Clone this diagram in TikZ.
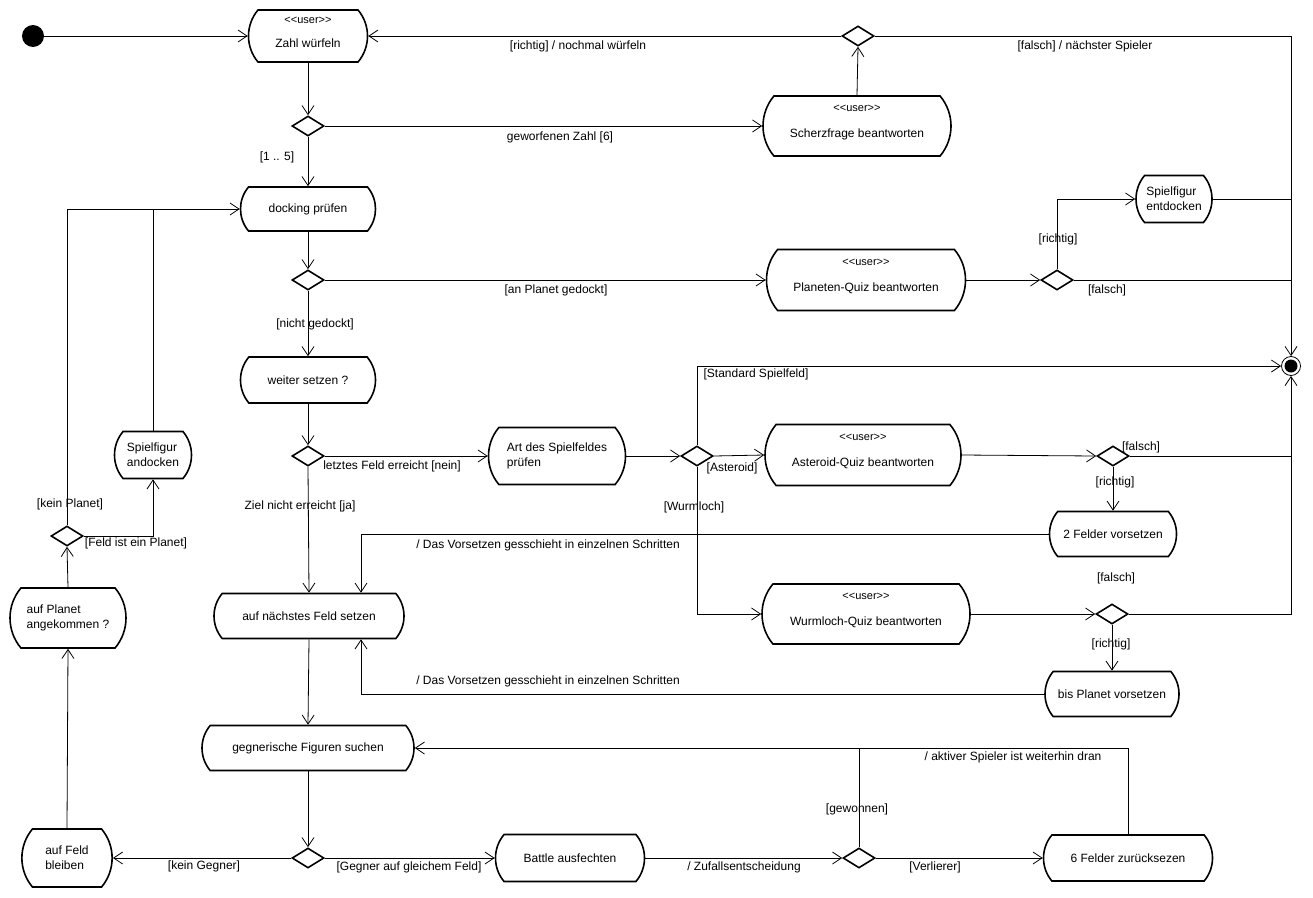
\documentclass[tikz,border=0pt]{standalone}
\usepackage{fontspec}
\setmainfont{Liberation Sans}
\usetikzlibrary{shapes.geometric,shapes.misc,arrows.meta}
\newcommand\actname[1]{\raisebox{-11.5pt}[0pt][0pt]{#1}}
\newcommand\usertag{<\kern0pt<user>\kern0pt>}
\begin{document}
\begin{tikzpicture}[x=1pt,y=-1pt,
  every node/.style={font=\fontsize{12}{15}\selectfont},
  act/.style={rounded rectangle, rounded rectangle arc length=80, draw, line width=1.6pt, inner sep=1pt, align=center},
  actl/.style={act, align=left},
  dec/.style={diamond, draw, line width=1.6pt, minimum width=32pt, minimum height=20pt, inner sep=0pt},
  stereo/.style={anchor=base, yshift=-16.5pt, inner sep=0pt, font=\fontsize{11}{13}\selectfont},
  lbl/.style={inner sep=0pt},
  ln/.style={line width=0.8pt},
  arr/.style={ln, -{Straight Barb[length=9pt,width=12pt]}}
]
\useasboundingbox[fill=white] (0,0) rectangle (1313,897);

% nodes
\node[circle,fill,minimum size=22pt,inner sep=0pt] (init) at (33,36) {};
\node[act,minimum width=121pt,minimum height=52pt,label={[stereo,yshift=2pt]north:\usertag}] (zahl) at (308,36) {\actname{Zahl würfeln}};
\node[dec] (d1) at (308,126) {};
\node[act,minimum width=190pt,minimum height=60pt,label={[stereo]north:\usertag}] (scherz) at (857,126) {\actname{Scherzfrage beantworten}};
\node[dec] (dtop) at (858,36) {};
\node[act,minimum width=137pt,minimum height=44pt] (dock) at (308,209) {docking prüfen};
\node[dec] (d2) at (308,280) {};
\node[act,minimum width=201pt,minimum height=61pt,label={[stereo]north:\usertag}] (planet) at (866,280) {\actname{Planeten-Quiz beantworten}};
\node[dec] (dplan) at (1057,280) {};
\node[actl,minimum width=78pt,minimum height=47pt] (entdock) at (1174,199) {Spielfigur\\entdocken};
\node[circle,draw,ln,minimum size=19pt,inner sep=0pt,path picture={\fill (path picture bounding box.center) circle[radius=6.5pt];}] (final) at (1291,366) {};
\node[act,minimum width=137pt,minimum height=46pt] (weiter) at (308,380) {weiter setzen ?};
\node[dec] (d3) at (308,456) {};
\node[actl,minimum width=139pt,minimum height=57pt] (art) at (557,456) {Art des Spielfeldes\\prüfen};
\node[dec] (dart) at (697,456) {};
\node[act,minimum width=198pt,minimum height=61pt,label={[stereo]north:\usertag}] (ast) at (863,455) {\actname{Asteroid-Quiz beantworten}};
\node[dec] (dast) at (1113,456) {};
\node[act,minimum width=129pt,minimum height=45pt] (zwei) at (1113,534) {2 Felder vorsetzen};
\node[act,minimum width=210pt,minimum height=60pt,label={[stereo]north:\usertag}] (wurm) at (866,614) {\actname{Wurmloch-Quiz beantworten}};
\node[dec] (dwurm) at (1112,614) {};
\node[act,minimum width=136pt,minimum height=45pt] (bis) at (1112,694) {bis Planet vorsetzen};
\node[act,minimum width=192pt,minimum height=45pt] (nxt) at (309,616) {auf nächstes Feld setzen};
\node[act,minimum width=214pt,minimum height=45pt] (gegn) at (308,748) {gegnerische Figuren suchen};
\node[dec] (dgeg) at (308,858) {};
\node[actl,minimum width=74pt,minimum height=58pt] (feld) at (67,858) {auf Feld\\bleiben};
\node[act,minimum width=151pt,minimum height=47pt] (battle) at (570,858) {Battle ausfechten};
\node[dec] (dbat) at (859,858) {};
\node[act,minimum width=171pt,minimum height=46pt] (sechs) at (1128,858) {6 Felder zurücksezen};
\node[actl,minimum width=118pt,minimum height=60pt] (pang) at (68,618) {auf Planet\\angekommen ?};
\node[dec] (dpl2) at (67,536) {};
\node[actl,minimum width=79pt,minimum height=47pt] (andock) at (153,455) {Spielfigur\\andocken};

% connectors
\draw[arr] (init) -- (zahl.west);
\draw[arr] (zahl.south) -- (d1.north);
\draw[arr] (d1.east) -- (scherz.west);
\draw[arr] (d1.south) -- (dock.north);
\draw[arr] (scherz.north) -- (dtop.south);
\draw[arr] (dtop.west) -- (zahl.east);
\draw[arr] (dtop.east) -| (final.north);
\draw[arr] (dock.south) -- (d2.north);
\draw[arr] (d2.east) -- (planet.west);
\draw[arr] (d2.south) -- (weiter.north);
\draw[arr] (planet.east) -- (dplan.west);
\draw[arr] (dplan.north) |- (entdock.west);
\draw[ln] (dplan.east) -- (dplan.east -| final);
\draw[ln] (entdock.east) -- (entdock.east -| final);
\draw[arr] (weiter.south) -- (d3.north);
\draw[arr] (d3.east) -- (art.west);
\draw[arr] (d3.south) -- (nxt.north);
\draw[arr] (art.east) -- (dart.west);
\draw[arr] (dart.north) |- (final.west);
\draw[arr] (dart.east) -- (ast.west);
\draw[arr] (dart.south) |- (wurm.west);
\draw[arr] (ast.east) -- (dast.west);
\draw[ln] (dast.east) -- (dast.east -| final);
\draw[arr] (dast.south) -- (zwei.north);
\draw[arr] (zwei.west) -| ([xshift=52pt]nxt.north);
\draw[arr] (wurm.east) -- (dwurm.west);
\draw[arr] (dwurm.east) -| (final.south);
\draw[arr] (dwurm.south) -- (bis.north);
\draw[arr] (bis.west) -| ([xshift=52pt]nxt.south);
\draw[arr] (nxt.south) -- (gegn.north);
\draw[arr] (gegn.south) -- (dgeg.north);
\draw[arr] (dgeg.west) -- (feld.east);
\draw[arr] (dgeg.east) -- (battle.west);
\draw[arr] (battle.east) -- (dbat.west);
\draw[arr] (dbat.east) -- (sechs.west);
\draw[ln] (dbat.north) -- (dbat.north |- gegn.east);
\draw[arr] (sechs.north) |- (gegn.east);
\draw[arr] (feld.north) -- (pang.south);
\draw[arr] (pang.north) -- (dpl2.south);
\draw[arr] (dpl2.north) |- (dock.west);
\draw[arr] (dpl2.east) -| (andock.south);
\draw[ln] (andock.north) -- (andock.north |- dock.west);

% labels
\node[lbl] (l1) at (578,46) {[richtig] / nochmal würfeln};
\node[lbl] (l2) at (1085,46) {[falsch] / nächster Spieler};
\node[lbl] (l3) at (560,137) {geworfenen Zahl [6]};
\node[lbl] (l4) at (277,157) {[1 .. 5]};
\node[lbl] (l5) at (1058,239) {[richtig]};
\node[lbl] (l6) at (1107,290) {[falsch]};
\node[lbl] (l7) at (556,290) {[an Planet gedockt]};
\node[lbl] (l8) at (315,324) {[nicht gedockt]};
\node[lbl] (l9) at (392,466) {letztes Feld erreicht [nein]};
\node[lbl] (l10) at (300,506) {Ziel nicht erreicht [ja]};
\node[lbl] (l11) at (70,504) {[kein Planet]};
\node[lbl] (l12) at (136,543) {[Feld ist ein Planet]};
\node[lbl] (l13) at (548,545) {/ Das Vorsetzen gesschieht in einzelnen Schritten};
\node[lbl] (l14) at (548,681) {/ Das Vorsetzen gesschieht in einzelnen Schritten};
\node[lbl] (l15) at (756,374) {[Standard Spielfeld]};
\node[lbl] (l16) at (732,468) {[Asteroid]};
\node[lbl] (l17) at (694,507) {[Wurmloch]};
\node[lbl] (l18) at (1141,447) {[falsch]};
\node[lbl] (l19) at (1115,482) {[richtig]};
\node[lbl] (l20) at (1116,578) {[falsch]};
\node[lbl] (l21) at (1111,644) {[richtig]};
\node[lbl] (l22) at (204,866) {[kein Gegner]};
\node[lbl] (l23) at (409,867) {[Gegner auf gleichem Feld]};
\node[lbl] (l24) at (744,867) {/ Zufallsentscheidung};
\node[lbl] (l25) at (935,867) {[Verlierer]};
\node[lbl] (l26) at (857,809) {[gewonnen]};
\node[lbl] (l27) at (1013,757) {/ aktiver Spieler ist weiterhin dran};
\end{tikzpicture}
\end{document}
